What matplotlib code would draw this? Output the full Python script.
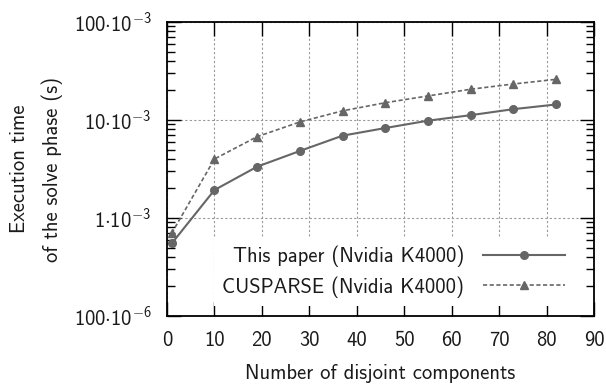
import matplotlib
matplotlib.use("Agg")
import matplotlib.pyplot as plt
import matplotlib.ticker as mticker
import numpy as np

# Data
components = [1, 10, 19, 28, 37, 46, 55, 64, 73, 82]
this_paper = [0.55e-3, 1.93e-3, 3.34e-3, 4.83e-3, 6.92e-3, 8.28e-3, 9.84e-3, 11.2e-3, 12.9e-3, 14.4e-3]
cusparse = [0.70e-3, 4.0e-3, 6.76e-3, 9.55e-3, 12.4e-3, 15.0e-3, 17.6e-3, 20.6e-3, 23.3e-3, 26.0e-3]
x_ticks = [0, 10, 20, 30, 40, 50, 60, 70, 80, 90]
y_ticks = [1e-4, 1e-3, 1e-2, 1e-1]
y_ticklabels = [r"$100{\cdot}10^{-6}$", r"$1{\cdot}10^{-3}$", r"$10{\cdot}10^{-3}$", r"$100{\cdot}10^{-3}$"]
label_this = "This paper (Nvidia K4000)"
label_cus = "CUSPARSE (Nvidia K4000)"

plt.rcParams['font.family'] = ['cmss10', 'DejaVu Sans']
plt.rcParams['mathtext.fontset'] = 'custom'
plt.rcParams['mathtext.rm'] = 'cmss10'
plt.rcParams['mathtext.it'] = 'cmss10'
plt.rcParams['mathtext.sf'] = 'cmss10'
plt.rcParams['axes.unicode_minus'] = False

FS = 14.8
col = '#666666'
txtcol = '#1a1a1a'

fig = plt.figure(figsize=(6.06, 3.91), dpi=100)
ax = fig.add_axes([167/606, 1-316/391, (594-167)/606, (316-22)/391])

ax.plot(components, this_paper, color=col, lw=1.5, marker='o', ms=5.5,
        label=label_this, zorder=3)
ax.plot(components, cusparse, color=col, lw=1.2, ls=(0, (2.5, 1.5)), marker='^', ms=6,
        label=label_cus, zorder=3)

ax.set_yscale('log')
ax.set_xlim(0, 90)
ax.set_ylim(1e-4, 1e-1)
ax.set_xticks(x_ticks)
ax.set_xticklabels([str(t) for t in x_ticks], fontsize=FS, color=txtcol)
ax.set_yticks(y_ticks)
ax.set_yticklabels(y_ticklabels, fontsize=FS, color=txtcol)
ax.yaxis.set_minor_locator(mticker.LogLocator(base=10, subs=np.arange(2, 10)))
ax.yaxis.set_minor_formatter(mticker.NullFormatter())

ax.tick_params(axis='x', which='major', direction='in', length=10, width=1.0,
               top=True, pad=11)
ax.tick_params(axis='y', which='major', direction='in', length=10, width=1.0,
               right=True, pad=11)
ax.tick_params(axis='y', which='minor', direction='in', length=6, width=1.0,
               left=True, right=True)
ax.tick_params(axis='x', which='minor', bottom=False, top=False)

for s in ax.spines.values():
    s.set_linewidth(1.3)

ax.grid(True, which='major', color='#999999', ls=(0, (2, 2)), lw=0.8)
ax.set_axisbelow(True)

ax.set_xlabel("Number of disjoint components", fontsize=FS, labelpad=10, color=txtcol)
ax.set_ylabel("Execution time\nof the solve phase (s)", fontsize=FS, labelpad=8,
              linespacing=1.75, color=txtcol)

leg = ax.legend(loc='lower right', bbox_to_anchor=(0.975, 0.0), markerfirst=False,
                frameon=True, fancybox=False, framealpha=1.0, edgecolor='none',
                facecolor='white', fontsize=FS, handlelength=4.0, handletextpad=0.9,
                labelspacing=0.45, borderpad=0.4)
for t in leg.get_texts():
    t.set_ha('right')
    t.set_color(txtcol)
leg._legend_box.align = 'right'

fig.savefig('out.png', dpi=100)
